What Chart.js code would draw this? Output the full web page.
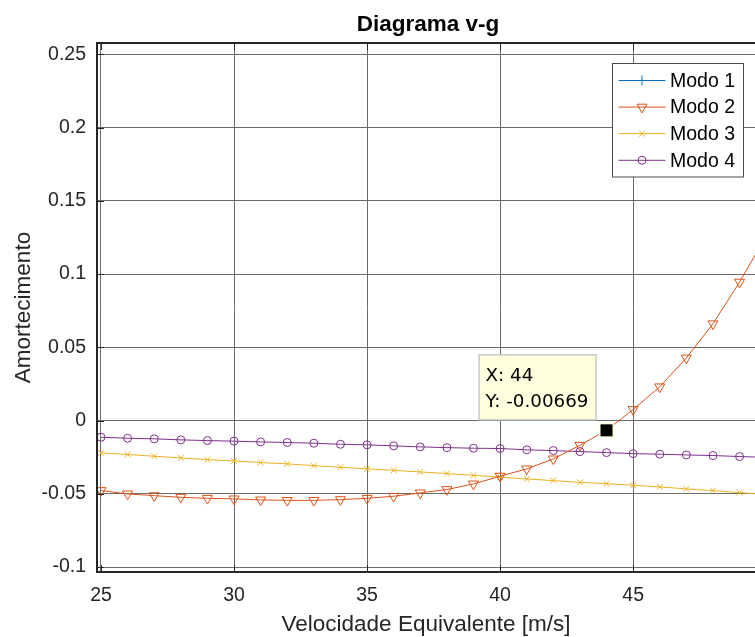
<!DOCTYPE html>
<html>
<head>
<meta charset="utf-8">
<script src="https://cdn.jsdelivr.net/npm/chart.js@4"></script>
<style>
  html, body { margin: 0; padding: 0; background: #fff; }
  canvas { display: block; }
</style>
</head>
<body>
<canvas id="chart" width="755" height="637"></canvas>
<script>
// data
const velocidade = [25, 26, 27, 28, 29, 30, 31, 32, 33, 34, 35, 36, 37, 38, 39, 40, 41, 42, 43, 44, 45, 46, 47, 48, 49, 50];
const modo1 = []; // not visible inside the axes
const modo2 = [-0.0478, -0.0501, -0.0513, -0.0524, -0.0531, -0.0535, -0.0542, -0.0545, -0.0545, -0.0540, -0.0531, -0.0517, -0.0494,
               -0.0471, -0.0433, -0.0380, -0.0330, -0.0262, -0.0169, -0.00669, 0.0075, 0.0230, 0.0427, 0.0660, 0.0945, 0.126];
const modo3 = [-0.0221, -0.0232, -0.0244, -0.0255, -0.0267, -0.0276, -0.0287, -0.0296, -0.0308, -0.0319, -0.0330, -0.0340, -0.0351,
               -0.0362, -0.0374, -0.0387, -0.0399, -0.0410, -0.0422, -0.0431, -0.0442, -0.0453, -0.0467, -0.0478, -0.0492, -0.0505];
const modo4 = [-0.0114, -0.0121, -0.0125, -0.0132, -0.0137, -0.0141, -0.0146, -0.0150, -0.0155, -0.0162, -0.0166, -0.0173, -0.0180,
               -0.0185, -0.0189, -0.0191, -0.0200, -0.0205, -0.0212, -0.0219, -0.0226, -0.0230, -0.0235, -0.0239, -0.0246, -0.0251];
const seriesNames = ["Modo 1", "Modo 2", "Modo 3", "Modo 4"];
const xTicks = [25, 30, 35, 40, 45];
const yTicks = [-0.1, -0.05, 0, 0.05, 0.1, 0.15, 0.2, 0.25];
const tipX = 44;
const tipY = -0.00669;

const FONT = "'Liberation Sans', Arial, Helvetica, sans-serif";
const TXT = "#262626";

function pts(values) {
    return values.map((v, i) => ({ x: velocidade[i], y: v }));
}

function mode(label, values, color, style, radius, rotation) {
    return {
        label: label,
        data: pts(values),
        borderColor: color,
        backgroundColor: color,
        borderWidth: 1,
        pointStyle: style,
        pointRadius: radius,
        pointRotation: rotation || 0,
        pointBorderColor: color,
        pointBackgroundColor: "rgba(0,0,0,0)",
        pointBorderWidth: 1,
        tension: 0
    };
}

// title, frame, tick marks, legend and data tip
const decorations = {
    id: "decorations",
    afterDraw(chart) {
        const ctx = chart.ctx;
        const a = chart.chartArea;
        const xs = chart.scales.x, ys = chart.scales.y;
        ctx.save();

        // inward tick marks
        ctx.strokeStyle = TXT;
        ctx.lineWidth = 1;
        ctx.beginPath();
        xTicks.forEach(t => {
            const px = Math.round(xs.getPixelForValue(t)) + 0.5;
            ctx.moveTo(px, a.bottom); ctx.lineTo(px, a.bottom - 7);
            ctx.moveTo(px, a.top); ctx.lineTo(px, a.top + 7);
        });
        yTicks.forEach(t => {
            const py = Math.round(ys.getPixelForValue(t)) + 0.5;
            ctx.moveTo(a.left, py); ctx.lineTo(a.left + 7, py);
        });
        ctx.stroke();

        // axes box
        ctx.lineWidth = 2;
        ctx.strokeStyle = TXT;
        ctx.strokeRect(a.left, a.top, a.right - a.left + 10, a.bottom - a.top);

        // title
        ctx.fillStyle = "#000";
        ctx.font = "bold 22.5px " + FONT;
        ctx.textAlign = "center";
        ctx.textBaseline = "middle";
        ctx.fillText("Diagrama v-g", (a.left + a.right) / 2 + 2, 25);

        // legend
        const lx = 612.5, ly = 63.5, lw = 131, lh = 113.5;
        ctx.fillStyle = "#fff";
        ctx.fillRect(lx, ly, lw, lh);
        ctx.lineWidth = 1;
        ctx.strokeStyle = "#4a4a4a";
        ctx.strokeRect(lx, ly, lw, lh);
        chart.data.datasets.forEach((ds, i) => {
            const cy = ly + 17 + i * 26.6;
            ctx.strokeStyle = ds.borderColor;
            ctx.lineWidth = 1;
            ctx.beginPath();
            ctx.moveTo(lx + 6, cy);
            ctx.lineTo(lx + 53, cy);
            ctx.stroke();
            ctx.fillStyle = "rgba(0,0,0,0)";
            Chart.helpers.drawPoint(ctx, {
                pointStyle: ds.pointStyle,
                rotation: ds.pointRotation,
                radius: ds.pointRadius,
                borderWidth: 1
            }, lx + 29.5, cy);
            ctx.fillStyle = "#000";
            ctx.font = "19.5px " + FONT;
            ctx.textAlign = "left";
            ctx.textBaseline = "middle";
            ctx.fillText(ds.label, lx + 57.5, cy + 1);
        });

        // data tip
        const px = xs.getPixelForValue(tipX);
        const py = ys.getPixelForValue(tipY);
        const bx = px - 127.5, by = py - 75.5;
        ctx.fillStyle = "#ffffe0";
        ctx.fillRect(bx, by, 117, 65);
        ctx.strokeStyle = "#c8c8c8";
        ctx.lineWidth = 1.5;
        ctx.strokeRect(bx, by, 117, 65);
        ctx.fillStyle = "#000";
        ctx.font = "18.3px 'DejaVu Sans', sans-serif";
        ctx.textAlign = "left";
        ctx.textBaseline = "middle";
        ctx.fillText("X: " + tipX, bx + 6.5, by + 21.6);
        ctx.fillText("Y: " + tipY, bx + 6.5, by + 47.4);
        ctx.fillStyle = "#ffffe0";
        ctx.fillRect(px - 7.5, py - 7.5, 15, 15);
        ctx.fillStyle = "#000";
        ctx.fillRect(px - 6, py - 6, 12, 12);

        ctx.restore();
    }
};

new Chart(document.getElementById("chart"), {
    type: "line",
    data: {
        datasets: [
            mode(seriesNames[0], modo1, "#0072BD", "cross", 5),
            mode(seriesNames[1], modo2, "#D95319", "triangle", 5.8, 180),
            mode(seriesNames[2], modo3, "#EDB120", "crossRot", 4.2),
            mode(seriesNames[3], modo4, "#7E2F8E", "circle", 4)
        ]
    },
    options: {
        responsive: false,
        animation: false,
        events: [],
        devicePixelRatio: 1,
        layout: { autoPadding: false, padding: { top: 43, left: 0, right: 0, bottom: 0 } },
        plugins: {
            legend: { display: false },
            title: { display: false },
            tooltip: { enabled: false }
        },
        scales: {
            x: {
                type: "linear",
                min: 24.85,
                max: 49.58,
                afterFit(scale) { scale.height = 65; },
                border: { display: false },
                grid: { color: "#6a6a6a", lineWidth: 1, drawTicks: false },
                ticks: {
                    stepSize: 5,
                    includeBounds: false,
                    padding: 14,
                    color: TXT,
                    font: { family: FONT, size: 19.5, lineHeight: 1 },
                    maxRotation: 0,
                    callback: v => String(v)
                },
                title: {
                    display: true,
                    text: "Velocidade Equivalente [m/s]",
                    color: TXT,
                    font: { family: FONT, size: 22.5, lineHeight: 1 },
                    padding: { top: 0, bottom: 0.5 }
                }
            },
            y: {
                type: "linear",
                min: -0.1034,
                max: 0.2577,
                afterFit(scale) { scale.width = 97; },
                border: { display: false },
                grid: { color: "#6a6a6a", lineWidth: 1, drawTicks: false },
                ticks: {
                    stepSize: 0.05,
                    includeBounds: false,
                    padding: 11,
                    color: TXT,
                    font: { family: FONT, size: 19.5, lineHeight: 1 },
                    callback: v => String(Math.round(v * 100) / 100)
                },
                title: {
                    display: true,
                    text: "Amortecimento",
                    color: TXT,
                    font: { family: FONT, size: 22.5, lineHeight: 1 },
                    padding: { top: 12.5, bottom: 0 }
                }
            }
        }
    },
    plugins: [decorations]
});
</script>
</body>
</html>
